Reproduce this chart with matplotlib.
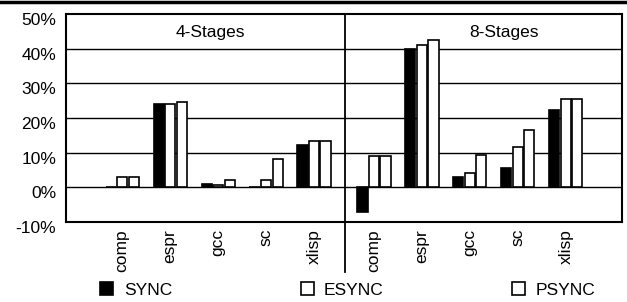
import matplotlib
matplotlib.use("Agg")
import matplotlib.pyplot as plt
import matplotlib.transforms as mtransforms
from matplotlib.patches import Patch
import numpy as np

benchmarks = ["comp", "espr", "gcc", "sc", "xlisp"]
stages = ["4-Stages", "8-Stages"]
series = ["SYNC", "ESYNC", "PSYNC"]

# percent values, 4-Stages then 8-Stages
sync_4 = [0.0, 24.0, 1.0, 0.0, 12.2]
esync_4 = [2.9, 24.0, 0.8, 2.0, 13.4]
psync_4 = [2.9, 24.5, 2.0, 8.3, 13.4]
sync_8 = [-7.0, 40.0, 3.1, 5.6, 22.3]
esync_8 = [9.1, 41.0, 4.0, 11.6, 25.4]
psync_8 = [9.1, 42.6, 9.4, 16.4, 25.5]

ticks = [-10, 0, 10, 20, 30, 40, 50]

plt.rcParams["font.family"] = ["Liberation Sans", "DejaVu Sans"]
fig = plt.figure(figsize=(6.27, 3.02), dpi=100)
ax = fig.add_axes([66 / 627, 80 / 302, 556 / 627, 208 / 302])

x4 = np.arange(len(benchmarks))
x8 = x4 + 5.25
xs = np.concatenate([x4, x8])
step, w = 0.24, 0.21
colors = ["black", "white", "white"]
data = [sync_4 + sync_8, esync_4 + esync_8, psync_4 + psync_8]
for i, (vals, c) in enumerate(zip(data, colors)):
    ax.bar(xs + (i - 1) * step, vals, w, color=c, edgecolor="black",
           linewidth=1.2, zorder=3)

for t in ticks[1:-1]:
    ax.axhline(t, color="black", linewidth=1.0, zorder=1)

ax.set_ylim(-10, 50)
ax.set_xlim(-1.17, 10.42)
ax.set_yticks(ticks)
ax.set_yticklabels([f"{t}%" for t in ticks], fontsize=12.5)
ax.set_xticks(xs)
ax.set_xticklabels(benchmarks * 2, rotation=90, fontsize=12.5, va="top")
ax.tick_params(axis="both", length=0)
ax.tick_params(axis="x", pad=5)
ax.tick_params(axis="y", pad=7)
# y labels in the original sit a little below their gridlines
shift = mtransforms.ScaledTranslation(0, -5 / 100, fig.dpi_scale_trans)
for lab in ax.get_yticklabels():
    lab.set_transform(lab.get_transform() + shift)
for s in ax.spines.values():
    s.set_linewidth(1.5)

# divider between the two stage groups
ax.plot([4.65, 4.65], [1, -0.24], transform=ax.get_xaxis_transform(),
        color="black", linewidth=1.3, clip_on=False, zorder=4)

ax.text(1.83, 44.6, stages[0], ha="center", va="center", fontsize=12.5)
ax.text(7.95, 44.6, stages[1], ha="center", va="center", fontsize=12.5)

# rule at very top
fig.add_artist(plt.Line2D([0, 1], [0.995, 0.995], color="black", linewidth=2.5))

handles = [Patch(facecolor=c, edgecolor="black", linewidth=1.2) for c in colors]
fig.legend(handles, series, loc="center left", bbox_to_anchor=(0.149, 0.04),
           ncol=3, frameon=False, fontsize=12.5, handlelength=0.75,
           handleheight=0.75, handletextpad=0.6, columnspacing=7.4,
           borderaxespad=0)

fig.savefig("out.png", dpi=100)
